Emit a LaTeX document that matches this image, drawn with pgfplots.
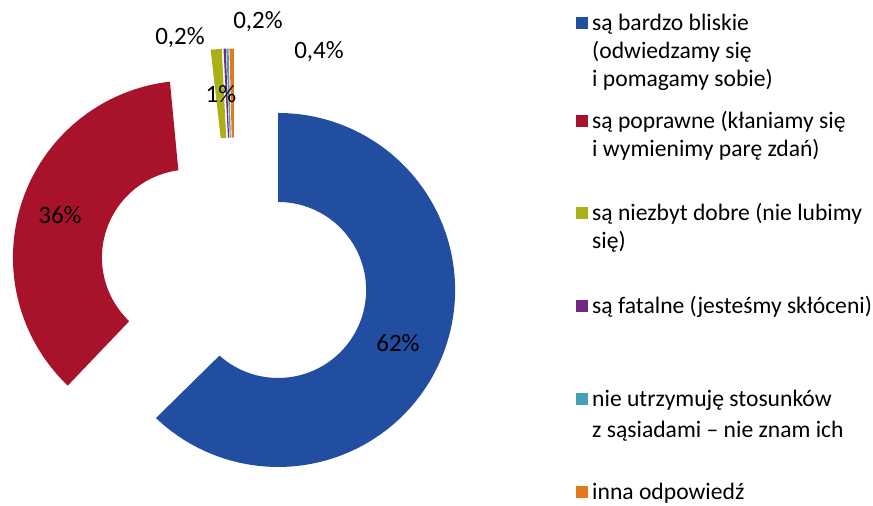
\documentclass[border=0pt]{standalone}
\usepackage{pgfplots}
\pgfplotsset{compat=1.18}
\usepackage{fontspec}
\setmainfont{Carlito}
\definecolor{cblue}{RGB}{33,78,160}
\definecolor{cred}{RGB}{168,18,42}
\definecolor{colive}{RGB}{172,176,24}
\definecolor{cpurple}{RGB}{112,40,132}
\definecolor{ccyan}{RGB}{70,160,185}
\definecolor{corange}{RGB}{228,120,30}

% geometry of the doughnut (1 unit = 1 px of the reference)
\newcommand\CX{234.5}
\newcommand\CY{233.5}
\newcommand\RO{177}
\newcommand\RI{88}
\newcommand\EX{47}
\newcommand\KK{3.6072144} % 360 / 99.8 (sum of the shares)

% \slice{cumulative start}{cumulative end}{colour}
\newcommand{\slice}[3]{%
\addplot[draw=none, fill=#3, domain=0:2, samples=241, variable=\t]
({\CX + \EX*sin(((#1)+(#2))*\KK/2) + ifthenelse(\t<1.003,\RO,\RI)*sin(ifthenelse(\t<1.003,(#1)+((#2)-(#1))*\t,(#2)-((#2)-(#1))*(\t-1))*\KK)},
 {\CY + \EX*cos(((#1)+(#2))*\KK/2) + ifthenelse(\t<1.003,\RO,\RI)*cos(ifthenelse(\t<1.003,(#1)+((#2)-(#1))*\t,(#2)-((#2)-(#1))*(\t-1))*\KK)});
}

\begin{document}
\begin{tikzpicture}
\path[use as bounding box] (0,0) rectangle (873pt,506pt);
\begin{axis}[
  at={(0,0)}, anchor=south west,
  scale only axis, width=873pt, height=506pt,
  xmin=0, xmax=873, ymin=0, ymax=506,
  hide axis, clip=false,
  legend image code/.code={\fill[#1] (0pt,2pt) rectangle (12pt,14pt);},
  legend style={
    at={(axis description cs:0.6598,0.9783)}, anchor=north west,
    draw=none, fill=none, inner sep=0pt, column sep=4pt, row sep=0pt,
    font=\fontsize{23.6}{28}\selectfont,
    cells={anchor=base west},
    nodes={inner sep=0pt, text depth=, text height=},
  },
]
% values: 62, 36, 1, 0.2, 0.2, 0.4 (%)
\slice{0}{62}{cblue}
\addlegendentry{\parbox[t][98pt][t]{300pt}{\strut są bardzo bliskie\\(odwiedzamy się\\i pomagamy sobie)}}
\slice{62}{98}{cred}
\addlegendentry{\parbox[t][92pt][t]{300pt}{\strut są poprawne (kłaniamy się\\i wymienimy parę zdań)}}
\slice{98}{99}{colive}
\addlegendentry{\parbox[t][93pt][t]{300pt}{\strut są niezbyt dobre (nie lubimy\\się)}}
\slice{99}{99.2}{cpurple}
\addlegendentry{\parbox[t][93pt][t]{300pt}{\strut są fatalne (jesteśmy skłóceni)}}
\slice{99.2}{99.4}{ccyan}
\addlegendentry{\parbox[t][93pt][t]{300pt}{\strut nie utrzymuję stosunków\\[3pt]z sąsiadami – nie znam ich}}
\slice{99.4}{99.8}{corange}
\addlegendentry{\parbox[t][28pt][t]{300pt}{\strut inna odpowiedź}}

% data labels
\addplot[forget plot, draw=none, mark=none, nodes near coords, point meta=explicit symbolic,
  every node near coord/.append style={anchor=center, inner sep=0pt, font=\fontsize{25}{30}\selectfont, text=black}]
coordinates {
  (398,163) [62\%]
  (60,291) [36\%]
  (221,412) [1\%]
  (180,468) [{0,2\%}]
  (258,484) [{0,2\%}]
  (319,454) [{0,4\%}]
};
\end{axis}
\end{tikzpicture}
\end{document}
